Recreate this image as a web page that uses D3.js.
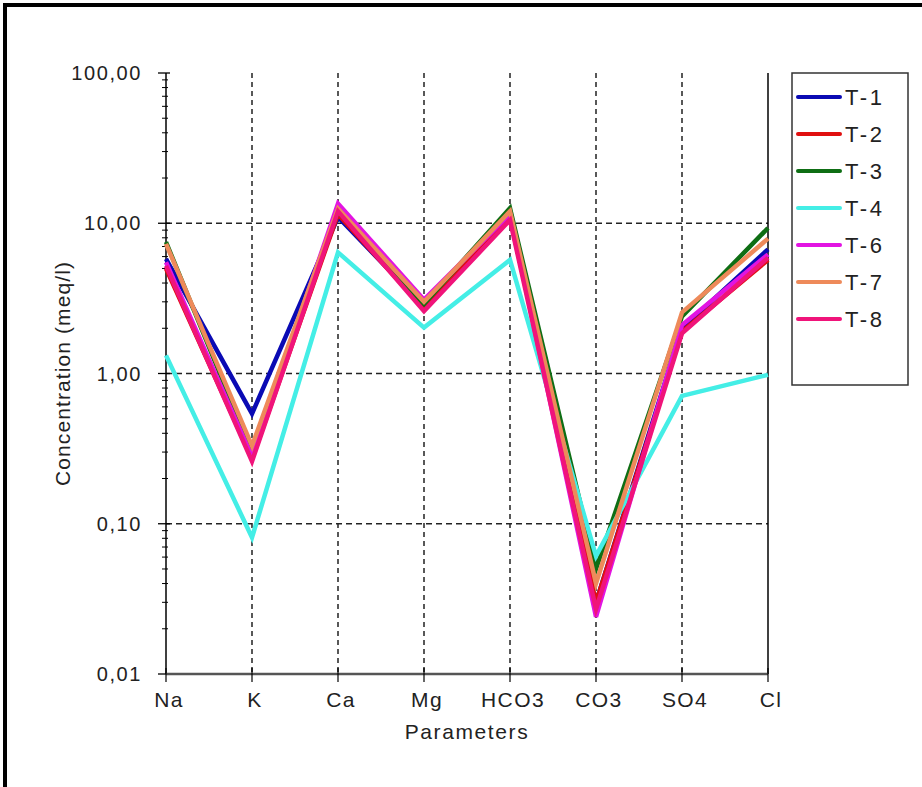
<!DOCTYPE html>
<html><head><meta charset="utf-8">
<script src="https://cdn.jsdelivr.net/npm/d3@7"></script>
<style>body{margin:0;background:#fff;} svg{display:block;} text{font-family:"Liberation Sans",Arial,sans-serif;fill:#222;}</style>
</head><body>
<svg id="c" width="922" height="787"></svg>
<script>
const categories = ["Na","K","Ca","Mg","HCO3","CO3","SO4","Cl"];
const seriesNames = ["T-1","T-2","T-3","T-4","T-6","T-7","T-8"];
const seriesColors = ["#0a0ab4","#e01010","#0e6e14","#44eee6","#e214e2","#ee8a5a","#f0147a"];
const t1 = [5.8, 0.54, 11.0, 2.8, 11.0, 0.030, 2.0, 6.7];
const t2 = [5.0, 0.27, 11.5, 2.7, 11.0, 0.030, 1.9, 5.7];
const t3 = [7.5, 0.30, 12.0, 2.9, 12.6, 0.050, 2.4, 9.3];
const t4 = [1.32, 0.081, 6.4, 2.02, 5.7, 0.061, 0.71, 0.98];
const t6 = [5.5, 0.28, 13.5, 3.1, 11.5, 0.024, 2.1, 6.2];
const t7 = [7.3, 0.33, 12.5, 3.0, 12.0, 0.040, 2.55, 7.9];
const t8 = [5.2, 0.26, 12.0, 2.6, 10.5, 0.027, 1.85, 5.9];
const seriesValues = [t1,t2,t3,t4,t6,t7,t8];
const yTicks = [0.01, 0.1, 1, 10, 100];
const yTickLabels = ["0,01","0,10","1,00","10,00","100,00"];

const svg = d3.select("#c");
// outer frame
svg.append("rect").attr("x",5).attr("y",5).attr("width",1000).attr("height",1000)
  .attr("fill","none").attr("stroke","#000").attr("stroke-width",4);

const L=166, R=768, T=73, B=674;
const x = d3.scalePoint().domain(categories).range([L,R]);
const y = d3.scaleLog().domain([0.01,100]).range([B,T]);

// grid
const g = svg.append("g");
categories.slice(1,-1).forEach(c=>{
  g.append("line").attr("x1",x(c)).attr("x2",x(c)).attr("y1",T).attr("y2",B)
   .attr("stroke","#222").attr("stroke-width",1.5).attr("stroke-dasharray","5,4");
});
[0.1,1,10].forEach(v=>{
  g.append("line").attr("x1",L).attr("x2",R).attr("y1",y(v)).attr("y2",y(v))
   .attr("stroke","#222").attr("stroke-width",1.5).attr("stroke-dasharray","6,4");
});
// right border
svg.append("line").attr("x1",R).attr("x2",R).attr("y1",T).attr("y2",B).attr("stroke","#000").attr("stroke-width",1.5);

// y axis
const minor = [];
for(let e=-2;e<2;e++) for(let k=2;k<10;k++) minor.push(k*Math.pow(10,e));
const ya = svg.append("g");
ya.append("line").attr("x1",L).attr("x2",L).attr("y1",T).attr("y2",B).attr("stroke","#000").attr("stroke-width",1.5);
minor.forEach(v=>{
  ya.append("line").attr("x1",L-4).attr("x2",L+2).attr("y1",y(v)).attr("y2",y(v)).attr("stroke","#000").attr("stroke-width",1);
});
yTicks.forEach((v,i)=>{
  ya.append("line").attr("x1",L-8).attr("x2",L+4).attr("y1",y(v)).attr("y2",y(v)).attr("stroke","#000").attr("stroke-width",1.3);
  ya.append("text").attr("x",L-24).attr("y",y(v)).attr("dy","0.35em").attr("text-anchor","end")
    .attr("font-size",20).attr("letter-spacing","1.6px").text(yTickLabels[i]);
});
svg.append("text").attr("transform",`translate(70,${(T+B)/2}) rotate(-90)`).attr("text-anchor","middle")
  .attr("font-size",21).attr("letter-spacing","1.1px").text("Concentration (meq/l)");

// x axis
const xa = svg.append("g");
xa.append("line").attr("x1",L).attr("x2",R).attr("y1",B).attr("y2",B).attr("stroke","#555").attr("stroke-width",2.5);
categories.forEach(c=>{
  xa.append("line").attr("x1",x(c)).attr("x2",x(c)).attr("y1",B-6).attr("y2",B+8).attr("stroke","#000").attr("stroke-width",1.2);
  xa.append("text").attr("x",x(c)+3).attr("y",707).attr("text-anchor","middle")
    .attr("font-size",21).attr("letter-spacing","1.4px").text(c);
});
svg.append("text").attr("x",467).attr("y",739).attr("text-anchor","middle")
  .attr("font-size",21).attr("letter-spacing","1.6px").text("Parameters");

// lines
const line = d3.line().x((d,i)=>x(categories[i])).y(d=>y(d));
seriesValues.forEach((vals,i)=>{
  svg.append("path").attr("d",line(vals)).attr("fill","none")
    .attr("stroke",seriesColors[i]).attr("stroke-width",4.5).attr("stroke-linejoin","miter");
});

// legend
const lg = svg.append("g");
lg.append("rect").attr("x",792).attr("y",73).attr("width",116).attr("height",312)
  .attr("fill","#fff").attr("stroke","#333").attr("stroke-width",1.5);
seriesNames.forEach((n,i)=>{
  const yy = 97 + i*37;
  lg.append("line").attr("x1",798).attr("x2",840).attr("y1",yy).attr("y2",yy)
    .attr("stroke",seriesColors[i]).attr("stroke-width",4).attr("stroke-linecap","round");
  lg.append("text").attr("x",845).attr("y",yy).attr("dy","0.36em").attr("font-size",22)
    .attr("letter-spacing","2.6px").text(n);
});
</script>
</body></html>
